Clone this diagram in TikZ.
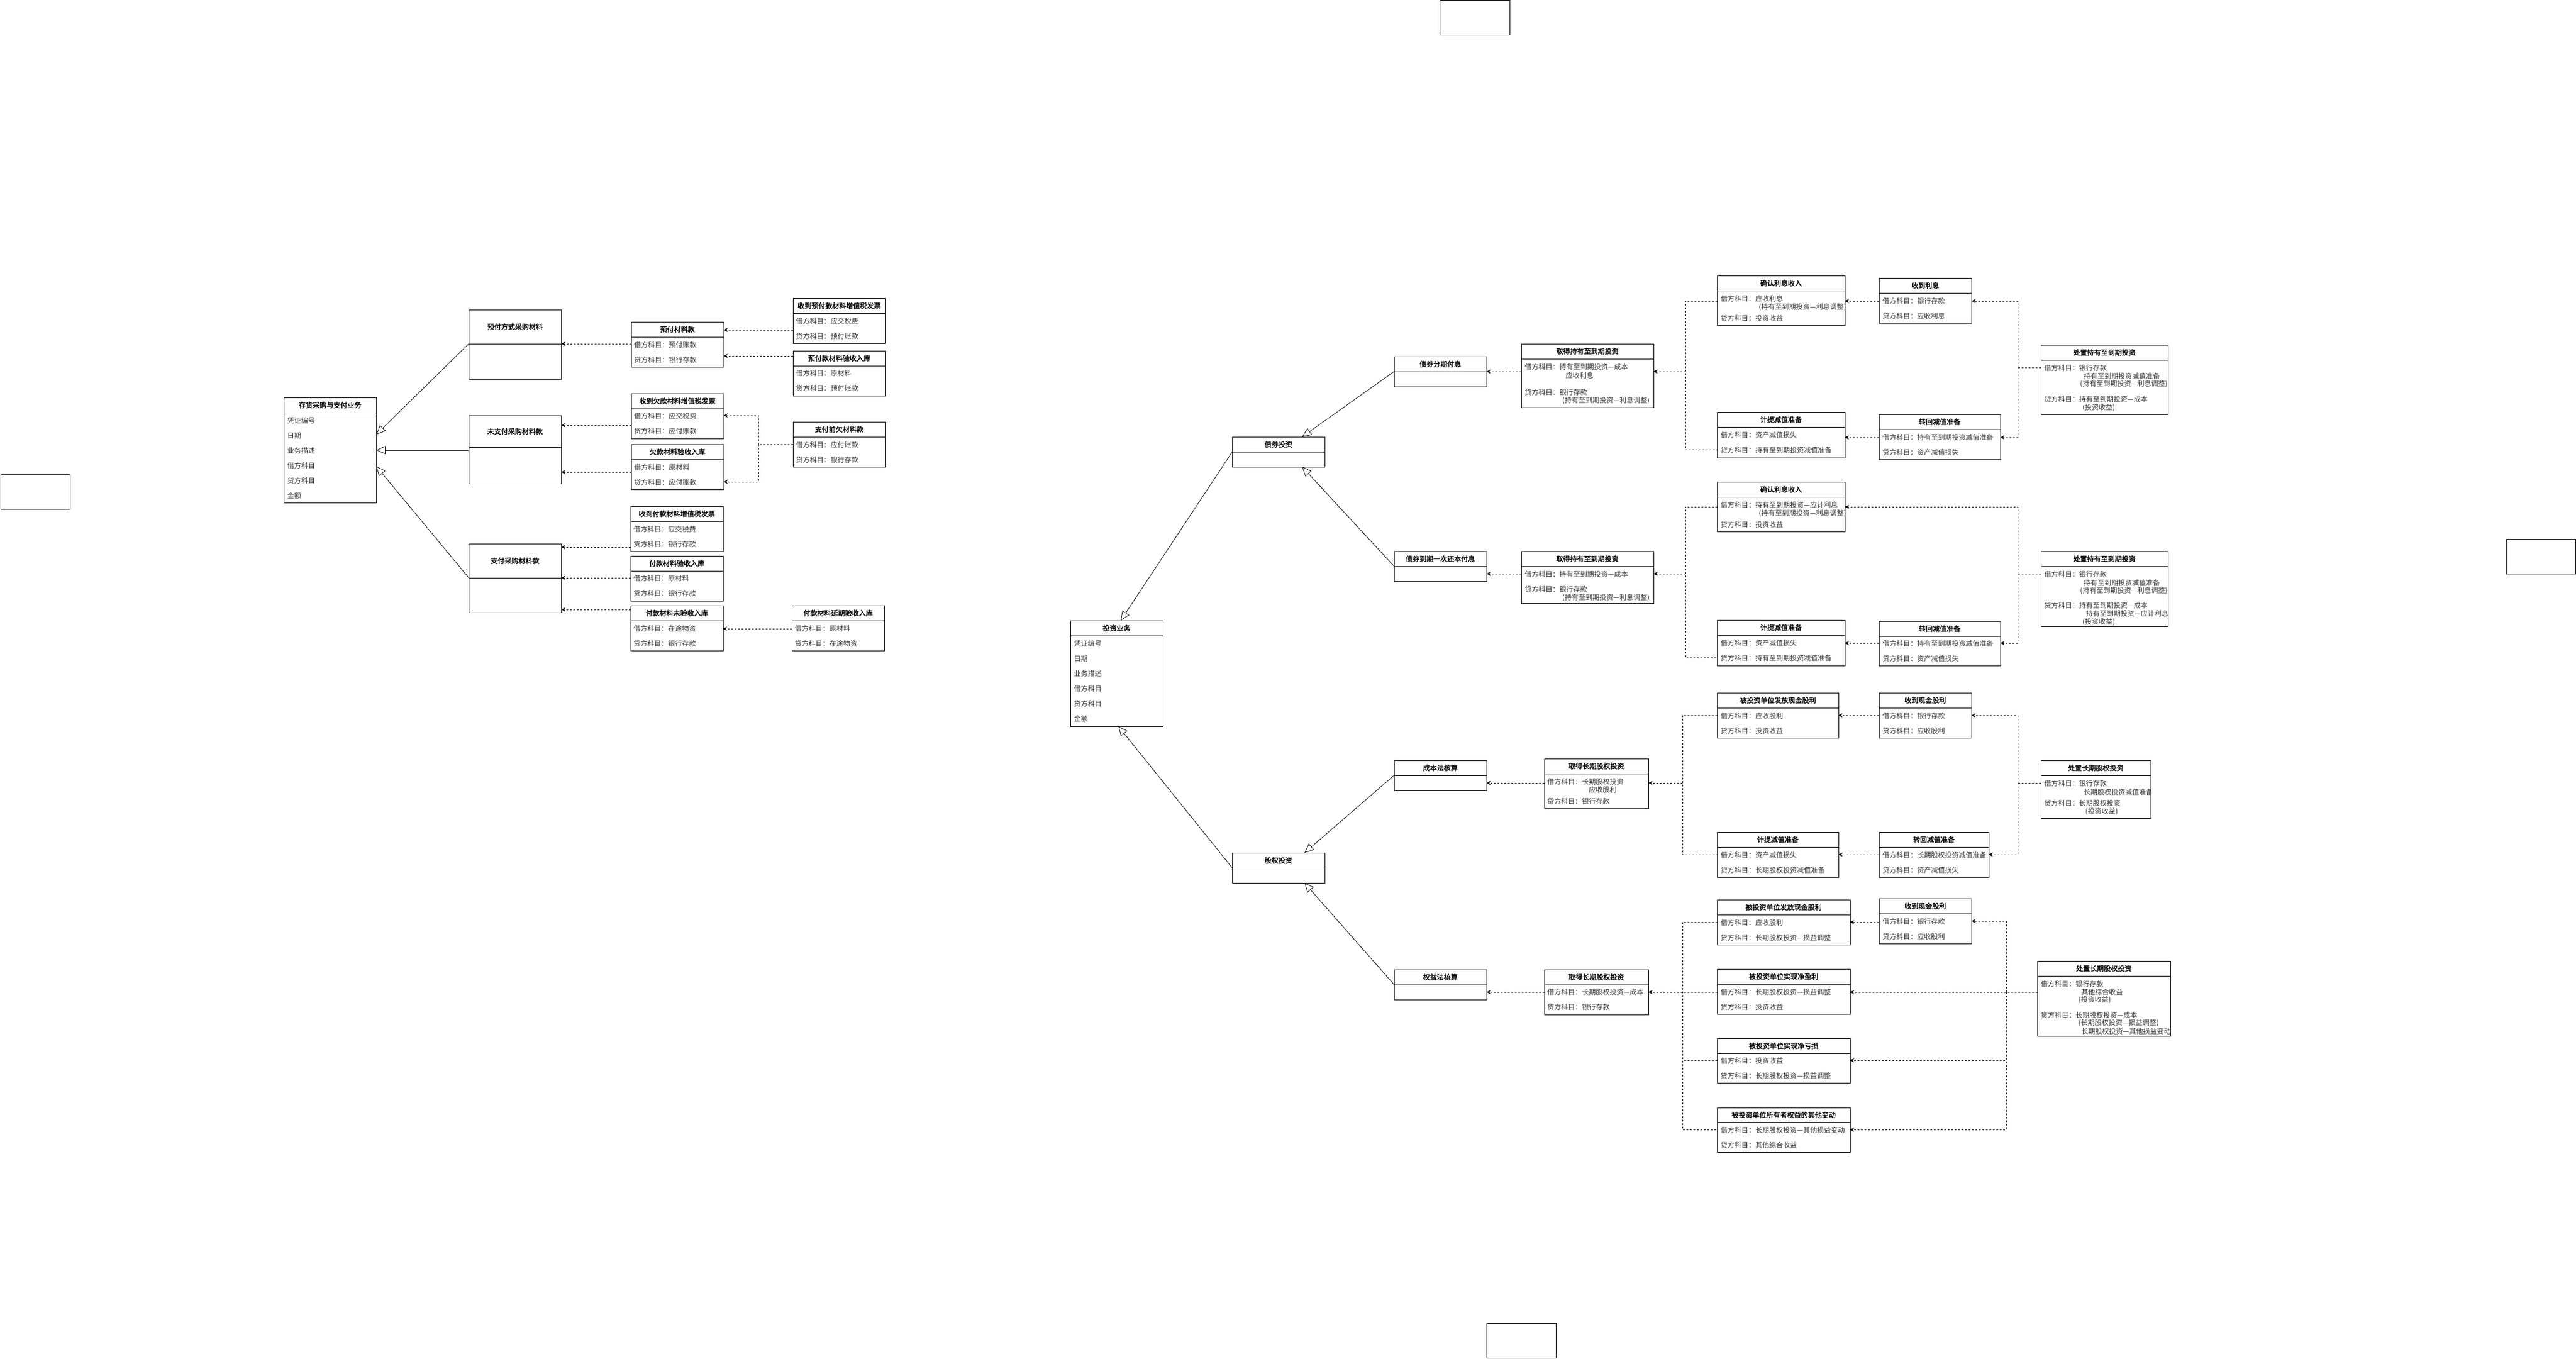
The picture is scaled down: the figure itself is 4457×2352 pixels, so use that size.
\documentclass[tikz,border=0pt]{standalone}
\usepackage{fontspec}
\setmainfont{Noto Sans CJK SC}[AutoFakeBold=2]
\usetikzlibrary{arrows.meta}
\tikzset{
  box/.style={draw=black, line width=1pt, inner sep=0pt, outer sep=0pt},
  boxln/.style={draw=black, line width=1pt},
  ttl/.style={font=\bfseries\fontsize{12pt}{14pt}\selectfont, inner sep=0pt},
  rowtxt/.style={anchor=west, font=\fontsize{12pt}{14pt}\selectfont, inner sep=0pt, text=black!80},
  dashln/.style={draw=black, line width=1pt, dash pattern=on 3pt off 3pt},
  dep/.style={dashln, -{Stealth[length=7pt,width=7pt]}},
  gen/.style={draw=black, line width=0.8pt, -{Triangle[length=16pt,width=14pt,fill=white]}},
}
\newcommand\cbox[7]{%
  \node[box, anchor=north west, minimum width={#4pt-#2pt}, minimum height={#5pt-#3pt}] (#1) at (#2,#3) {};
  \draw[boxln] (#2,#6) -- (#4,#6);
  \node[ttl] (#1-t) at ({(#2+#4)/2},{(#3+#6)/2}) {#7};
}
\newcommand\rw[4]{\node[rowtxt] (#1) at (#2,#3) {#4};}
\begin{document}
\begin{tikzpicture}[x=1pt,y=-1pt]
\useasboundingbox (0,0) rectangle (4457,2352);

% empty frames
\node[box, anchor=north west, minimum width=121pt, minimum height=60pt] (e1) at (2491,1) {};
\node[box, anchor=north west, minimum width=120pt, minimum height=60pt] (e2) at (1,821) {};
\node[box, anchor=north west, minimum width=120pt, minimum height=60pt] (e3) at (4336,933) {};
\node[box, anchor=north west, minimum width=120pt, minimum height=60pt] (e4) at (2572,2290) {};

% ================= LEFT: purchase =================
\cbox{cg}{491}{688}{651}{870}{714}{存货采购与支付业务}
\rw{cg1}{497}{728}{凭证编号}
\rw{cg2}{497}{754}{日期}
\rw{cg3}{497}{780}{业务描述}
\rw{cg4}{497}{806}{借方科目}
\rw{cg5}{497}{832}{贷方科目}
\rw{cg6}{497}{858}{金额}

\cbox{yf}{811}{536}{971}{656}{595}{预付方式采购材料}
\cbox{wzf}{811}{719}{971}{837}{774}{未支付采购材料款}
\cbox{zf}{811}{941}{971}{1060}{1000}{支付采购材料款}

\cbox{yfk}{1092}{557}{1252}{635}{583}{预付材料款}
\rw{yfk1}{1097}{597}{借方科目：预付账款}
\rw{yfk2}{1097}{623}{贷方科目：银行存款}
\cbox{sp1}{1372}{516}{1532}{594}{542}{收到预付款材料增值税发票}
\rw{sp11}{1377}{556}{借方科目：应交税费}
\rw{sp12}{1377}{582}{贷方科目：预付账款}
\cbox{yr}{1372}{607}{1532}{685}{633}{预付款材料验收入库}
\rw{yr1}{1377}{646}{借方科目：原材料}
\rw{yr2}{1377}{672}{贷方科目：预付账款}
\cbox{sq}{1092}{681}{1252}{759}{707}{收到欠款材料增值税发票}
\rw{sq1}{1097}{720}{借方科目：应交税费}
\rw{sq2}{1097}{746}{贷方科目：应付账款}
\cbox{qr}{1092}{769}{1252}{847}{795}{欠款材料验收入库}
\rw{qr1}{1097}{809}{借方科目：原材料}
\rw{qr2}{1097}{835}{贷方科目：应付账款}
\cbox{zq}{1372}{730}{1532}{808}{756}{支付前欠材料款}
\rw{zq1}{1377}{770}{借方科目：应付账款}
\rw{zq2}{1377}{796}{贷方科目：银行存款}
\cbox{sf}{1091}{876}{1251}{954}{902}{收到付款材料增值税发票}
\rw{sf1}{1096}{916}{借方科目：应交税费}
\rw{sf2}{1096}{942}{贷方科目：银行存款}
\cbox{fr}{1091}{962}{1251}{1040}{988}{付款材料验收入库}
\rw{fr1}{1096}{1001}{借方科目：原材料}
\rw{fr2}{1096}{1027}{贷方科目：银行存款}
\cbox{fw}{1091}{1048}{1251}{1126}{1074}{付款材料未验收入库}
\rw{fw1}{1096}{1088}{借方科目：在途物资}
\rw{fw2}{1096}{1114}{贷方科目：银行存款}
\cbox{fy}{1370}{1048}{1530}{1126}{1074}{付款材料延期验收入库}
\rw{fy1}{1375}{1088}{借方科目：原材料}
\rw{fy2}{1375}{1114}{贷方科目：在途物资}

\draw[gen] (yf.west |- 0,595) -- (cg.east |- 0,752);
\draw[gen] (wzf.west |- 0,779) -- (cg.east |- 0,779);
\draw[gen] (zf.west |- 0,1000) -- (cg.east |- 0,807);
\draw[dep] (yfk.west |- 0,595) -- (yf.east |- 0,595);
\draw[dep] (sp1.west |- 0,571) -- (yfk.east |- 0,571);
\draw[dep] (yr.west |- 0,616) -- (yfk.east |- 0,616);
\draw[dep] (sq.west |- 0,736) -- (wzf.east |- 0,736);
\draw[dep] (qr.west |- 0,817) -- (wzf.east |- 0,817);
\coordinate (j1) at (1312,769);
\draw[dashln] (zq.west |- j1) -- (j1);
\draw[dep] (j1) |- (sq.east |- 0,719);
\draw[dep] (j1) |- (qr.east |- 0,834);
\draw[dep] (sf.west |- 0,947) -- (zf.east |- 0,947);
\draw[dep] (fr.west |- 0,1000) -- (zf.east |- 0,1000);
\draw[dep] (fw.west |- 0,1055) -- (zf.east |- 0,1055);
\draw[dep] (fy.west |- 0,1088) -- (fw.east |- 0,1088);

% ================= MIDDLE: investment =================
\cbox{tz}{1852}{1074}{2012}{1257}{1100}{投资业务}
\rw{tz1}{1858}{1114}{凭证编号}
\rw{tz2}{1858}{1140}{日期}
\rw{tz3}{1858}{1166}{业务描述}
\rw{tz4}{1858}{1192}{借方科目}
\rw{tz5}{1858}{1218}{贷方科目}
\rw{tz6}{1858}{1244}{金额}

\cbox{bi}{2132}{756}{2292}{808}{782}{债券投资}
\cbox{eq}{2132}{1476}{2292}{1528}{1502}{股权投资}
\cbox{fq}{2412}{617}{2572}{669}{643}{债券分期付息}
\cbox{dq}{2412}{954}{2572}{1006}{980}{债券到期一次还本付息}
\cbox{cb}{2412}{1316}{2572}{1368}{1342}{成本法核算}
\cbox{qy}{2412}{1678}{2572}{1730}{1704}{权益法核算}

\draw[gen] (bi.west |- 0,782) -- (1939,0 |- tz.north);
\draw[gen] (eq.west |- 0,1502) -- (1935,0 |- tz.south);
\draw[gen] (fq.west |- 0,643) -- (2253,0 |- bi.north);
\draw[gen] (dq.west |- 0,980) -- (2253,0 |- bi.south);
\draw[gen] (cb.west |- 0,1342) -- (2257,0 |- eq.north);
\draw[gen] (qy.west |- 0,1704) -- (2257,0 |- eq.south);

\cbox{qd1}{2632}{595}{2861}{705}{621}{取得持有至到期投资}
\rw{qd11}{2638}{635}{借方科目：持有至到期投资—成本}
\rw{qd12}{2709}{650}{应收利息}
\rw{qd13}{2638}{679}{贷方科目：银行存款}
\rw{qd14}{2703}{694}{(持有至到期投资—利息调整)}
\cbox{qd2}{2632}{954}{2861}{1044}{980}{取得持有至到期投资}
\rw{qd21}{2638}{994}{借方科目：持有至到期投资—成本}
\rw{qd22}{2638}{1020}{贷方科目：银行存款}
\rw{qd23}{2703}{1035}{(持有至到期投资—利息调整)}
\draw[dep] (qd1.west |- 0,643) -- (fq.east |- 0,643);
\draw[dep] (qd2.west |- 0,993) -- (dq.east |- 0,993);

\cbox{cl1}{2672}{1313}{2852}{1399}{1339}{取得长期股权投资}
\rw{cl11}{2677}{1353}{借方科目：长期股权投资}
\rw{cl12}{2749}{1367}{应收股利}
\rw{cl13}{2677}{1387}{贷方科目：银行存款}
\cbox{cl2}{2672}{1678}{2852}{1756}{1704}{取得长期股权投资}
\rw{cl21}{2677}{1717}{借方科目：长期股权投资—成本}
\rw{cl22}{2677}{1743}{贷方科目：银行存款}
\draw[dep] (cl1.west |- 0,1355) -- (cb.east |- 0,1355);
\draw[dep] (cl2.west |- 0,1717) -- (qy.east |- 0,1717);

% ================= RIGHT: bond group 1 =================
\cbox{lx1}{2971}{477}{3192}{563}{503}{确认利息收入}
\begin{scope}
\clip (lx1.north west) rectangle (lx1.south east);
\rw{lx11}{2977}{517}{借方科目：应收利息}
\rw{lx12}{3043}{532}{(持有至到期投资—利息调整)}
\rw{lx13}{2977}{551}{贷方科目：投资收益}
\end{scope}
\cbox{sl}{3251}{481}{3411}{559}{507}{收到利息}
\rw{sl1}{3257}{521}{借方科目：银行存款}
\rw{sl2}{3257}{547}{贷方科目：应收利息}
\cbox{cz1}{3531}{597}{3751}{717}{623}{处置持有至到期投资}
\begin{scope}
\clip (cz1.north west) rectangle (cz1.south east);
\rw{cz11}{3537}{637}{借方科目：银行存款}
\rw{cz12}{3605}{651}{持有至到期投资减值准备}
\rw{cz13}{3599}{665}{(持有至到期投资—利息调整)}
\rw{cz14}{3537}{691}{贷方科目：持有至到期投资—成本}
\rw{cz15}{3603}{706}{(投资收益)}
\end{scope}
\cbox{jt1}{2971}{713}{3192}{792}{739}{计提减值准备}
\rw{jt11}{2977}{753}{借方科目：资产减值损失}
\rw{jt12}{2977}{779}{贷方科目：持有至到期投资减值准备}
\cbox{zh1}{3251}{717}{3461}{795}{743}{转回减值准备}
\rw{zh11}{3257}{757}{借方科目：持有至到期投资减值准备}
\rw{zh12}{3257}{783}{贷方科目：资产减值损失}

\coordinate (b1) at (2916,643);
\draw[dashln] (lx1.west |- 0,521) -| (b1) |- (jt1.west |- 0,778);
\draw[dep] (b1) -- (qd1.east |- b1);
\draw[dep] (sl.west |- 0,521) -- (lx1.east |- 0,521);
\draw[dep] (zh1.west |- 0,757) -- (jt1.east |- 0,757);
\coordinate (b2) at (3491,636);
\draw[dashln] (cz1.west |- b2) -- (b2);
\draw[dep] (b2) |- (sl.east |- 0,521);
\draw[dep] (b2) |- (zh1.east |- 0,757);

% ================= RIGHT: bond group 2 =================
\cbox{lx2}{2971}{834}{3192}{920}{860}{确认利息收入}
\begin{scope}
\clip (lx2.north west) rectangle (lx2.south east);
\rw{lx21}{2977}{874}{借方科目：持有至到期投资—应计利息}
\rw{lx22}{3043}{889}{(持有至到期投资—利息调整)}
\rw{lx23}{2977}{908}{贷方科目：投资收益}
\end{scope}
\cbox{cz2}{3531}{954}{3751}{1084}{980}{处置持有至到期投资}
\begin{scope}
\clip (cz2.north west) rectangle (cz2.south east);
\rw{cz21}{3537}{994}{借方科目：银行存款}
\rw{cz22}{3605}{1009}{持有至到期投资减值准备}
\rw{cz23}{3599}{1023}{(持有至到期投资—利息调整)}
\rw{cz24}{3537}{1048}{贷方科目：持有至到期投资—成本}
\rw{cz25}{3609}{1062}{持有至到期投资—应计利息}
\rw{cz26}{3603}{1077}{(投资收益)}
\end{scope}
\cbox{jt2}{2971}{1073}{3192}{1152}{1099}{计提减值准备}
\rw{jt21}{2977}{1113}{借方科目：资产减值损失}
\rw{jt22}{2977}{1139}{贷方科目：持有至到期投资减值准备}
\cbox{zh2}{3251}{1075}{3461}{1152}{1101}{转回减值准备}
\rw{zh21}{3257}{1114}{借方科目：持有至到期投资减值准备}
\rw{zh22}{3257}{1140}{贷方科目：资产减值损失}

\coordinate (b3) at (2916,993);
\draw[dashln] (lx2.west |- 0,877) -| (b3) |- (jt2.west |- 0,1138);
\draw[dep] (b3) -- (qd2.east |- b3);
\coordinate (b4) at (3491,993);
\draw[dashln] (cz2.west |- b4) -- (b4);
\draw[dep] (b4) |- (lx2.east |- 0,877);
\draw[dep] (b4) |- (zh2.east |- 0,1113);
\draw[dep] (zh2.west |- 0,1113) -- (jt2.east |- 0,1113);

% ================= RIGHT: equity cost method =================
\cbox{ff1}{2971}{1199}{3181}{1277}{1225}{被投资单位发放现金股利}
\rw{ff11}{2977}{1239}{借方科目：应收股利}
\rw{ff12}{2977}{1265}{贷方科目：投资收益}
\cbox{sg1}{3251}{1199}{3411}{1277}{1225}{收到现金股利}
\rw{sg11}{3257}{1239}{借方科目：银行存款}
\rw{sg12}{3257}{1265}{贷方科目：应收股利}
\cbox{cz3}{3531}{1316}{3721}{1416}{1342}{处置长期股权投资}
\begin{scope}
\clip (cz3.north west) rectangle (cz3.south east);
\rw{cz31}{3537}{1356}{借方科目：银行存款}
\rw{cz32}{3605}{1371}{长期股权投资减值准备}
\rw{cz33}{3537}{1390}{贷方科目：长期股权投资}
\rw{cz34}{3608}{1405}{(投资收益)}
\end{scope}
\cbox{jt3}{2971}{1440}{3181}{1518}{1466}{计提减值准备}
\rw{jt31}{2977}{1480}{借方科目：资产减值损失}
\rw{jt32}{2977}{1506}{贷方科目：长期股权投资减值准备}
\cbox{zh3}{3251}{1440}{3441}{1518}{1466}{转回减值准备}
\rw{zh31}{3257}{1480}{借方科目：长期股权投资减值准备}
\rw{zh32}{3257}{1506}{贷方科目：资产减值损失}

\coordinate (b5) at (2911,1355);
\draw[dashln] (ff1.west |- 0,1238) -| (b5) |- (jt3.west |- 0,1479);
\draw[dep] (b5) -- (cl1.east |- b5);
\draw[dep] (sg1.west |- 0,1238) -- (ff1.east |- 0,1238);
\draw[dep] (zh3.west |- 0,1479) -- (jt3.east |- 0,1479);
\coordinate (b6) at (3491,1355);
\draw[dashln] (cz3.west |- b6) -- (b6);
\draw[dep] (b6) |- (sg1.east |- 0,1238);
\draw[dep] (b6) |- (zh3.east |- 0,1479);

% ================= RIGHT: equity method =================
\cbox{ff2}{2971}{1557}{3201}{1635}{1583}{被投资单位发放现金股利}
\rw{ff21}{2977}{1597}{借方科目：应收股利}
\rw{ff22}{2977}{1623}{贷方科目：长期股权投资—损益调整}
\cbox{sg2}{3251}{1555}{3411}{1633}{1581}{收到现金股利}
\rw{sg21}{3257}{1595}{借方科目：银行存款}
\rw{sg22}{3257}{1621}{贷方科目：应收股利}
\cbox{yl}{2971}{1677}{3201}{1755}{1703}{被投资单位实现净盈利}
\rw{yl1}{2977}{1717}{借方科目：长期股权投资—损益调整}
\rw{yl2}{2977}{1743}{贷方科目：投资收益}
\cbox{ks}{2971}{1797}{3201}{1874}{1823}{被投资单位实现净亏损}
\rw{ks1}{2977}{1836}{借方科目：投资收益}
\rw{ks2}{2977}{1862}{贷方科目：长期股权投资—损益调整}
\cbox{qt}{2971}{1917}{3201}{1994}{1942}{被投资单位所有者权益的其他变动}
\rw{qt1}{2977}{1956}{借方科目：长期股权投资—其他损益变动}
\rw{qt2}{2977}{1982}{贷方科目：其他综合收益}
\cbox{cz4}{3525}{1663}{3755}{1793}{1689}{处置长期股权投资}
\begin{scope}
\clip (cz4.north west) rectangle (cz4.south east);
\rw{cz41}{3531}{1703}{借方科目：银行存款}
\rw{cz42}{3601}{1717}{其他综合收益}
\rw{cz43}{3596}{1731}{(投资收益)}
\rw{cz44}{3531}{1757}{贷方科目：长期股权投资—成本}
\rw{cz45}{3596}{1771}{(长期股权投资—损益调整)}
\rw{cz46}{3601}{1785}{长期股权投资—其他损益变动}
\end{scope}

\coordinate (b7) at (2911,1717);
\draw[dashln] (ff2.west |- 0,1596) -| (b7) |- (qt.west |- 0,1955);
\draw[dashln] (ks.west |- 0,1835) -- (b7 |- 0,1835);
\draw[dep] (yl.west |- b7) -- (cl2.east |- b7);
\draw[dep] (sg2.west |- 0,1596) -- (ff2.east |- 0,1596);
\coordinate (b8) at (3471,1717);
\draw[dep] (cz4.west |- b8) -- (yl.east |- b8);
\draw[dep] (b8) |- (sg2.east |- 0,1594);
\draw[dep] (b8) |- (ks.east |- 0,1835);
\draw[dep] (b8) |- (qt.east |- 0,1955);
\end{tikzpicture}
\end{document}
